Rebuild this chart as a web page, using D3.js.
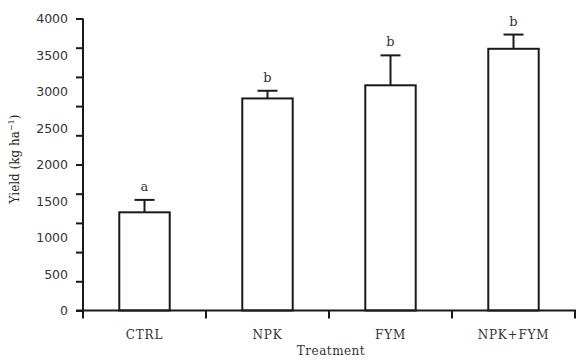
<!DOCTYPE html>
<html>
<head>
<meta charset="utf-8">
<script src="https://cdn.jsdelivr.net/npm/d3@7"></script>
<style>
  body { margin: 0; background: #fff; }
  svg { display: block; }
</style>
</head>
<body>
<div id="chart"></div>
<script>
var width = 576;
var height = 360;

// data
const treatments = ["CTRL", "NPK", "FYM", "NPK+FYM"];
const yieldMean = [1345, 2905, 3085, 3585];
const yieldErr = [170, 105, 410, 195];
const groupLetters = ["a", "b", "b", "b"];
const yLabelTicks = [0, 500, 1000, 1500, 2000, 2500, 3000, 3500, 4000];
const yMarkTicks = d3.range(0, 4001, 400);

const x = d3.scaleBand()
  .domain(treatments)
  .range([83, 575])
  .padding(0);

const y = d3.scaleLinear()
  .domain([0, 4000])
  .range([310.5, 18.5]);

const barW = x.bandwidth() * 0.41;
const ink = "#1a1a1a";

let svg = d3.select("#chart")
  .append("svg")
  .attr("width", width)
  .attr("height", height);

// bars
svg.selectAll("rect.bar")
  .data(treatments)
  .enter().append("rect")
  .attr("class", "bar")
  .attr("x", (d) => x(d) + x.bandwidth() / 2 - barW / 2)
  .attr("y", (d, i) => y(yieldMean[i]))
  .attr("width", barW)
  .attr("height", (d, i) => y(0) - y(yieldMean[i]))
  .attr("fill", "#fff")
  .attr("stroke", ink)
  .attr("stroke-width", 2);

// error bars (upper only)
let err = svg.append("g").attr("stroke", ink).attr("stroke-width", 2);
treatments.forEach((d, i) => {
  const cx = x(d) + x.bandwidth() / 2;
  err.append("line")
    .attr("x1", cx).attr("x2", cx)
    .attr("y1", y(yieldMean[i])).attr("y2", y(yieldMean[i] + yieldErr[i]));
  err.append("line")
    .attr("x1", cx - 10).attr("x2", cx + 10)
    .attr("y1", y(yieldMean[i] + yieldErr[i])).attr("y2", y(yieldMean[i] + yieldErr[i]));
});

// significance letters
svg.selectAll("text.sig")
  .data(treatments)
  .enter().append("text")
  .attr("class", "sig")
  .attr("x", (d) => x(d) + x.bandwidth() / 2)
  .attr("y", (d, i) => y(yieldMean[i] + yieldErr[i]) - 9)
  .attr("text-anchor", "middle")
  .attr("font-family", "DejaVu Serif, serif")
  .attr("font-size", 13)
  .attr("fill", "#333")
  .text((d, i) => groupLetters[i]);

// y axis: ticks and labels are not aligned in the original
let yTicks = svg.append("g")
  .attr("transform", "translate(" + x.range()[0] + ",0)")
  .call(d3.axisLeft(y).tickValues(yMarkTicks).tickFormat("").tickSize(7).tickSizeOuter(0));
yTicks.select(".domain").remove();
yTicks.selectAll("line").attr("stroke", ink).attr("stroke-width", 2);

let yLabels = svg.append("g")
  .attr("transform", "translate(" + x.range()[0] + ",0)")
  .call(d3.axisLeft(y).tickValues(yLabelTicks).tickFormat(d3.format("d")).tickSize(0).tickPadding(15));
yLabels.select(".domain").remove();
yLabels.selectAll("text")
  .attr("font-family", "DejaVu Sans, sans-serif")
  .attr("font-size", 12.5)
  .attr("fill", "#333");

// axis lines
svg.append("line")
  .attr("x1", x.range()[0]).attr("x2", x.range()[0])
  .attr("y1", y.range()[1]).attr("y2", y(0) + 8)
  .attr("stroke", ink).attr("stroke-width", 2);
svg.append("line")
  .attr("x1", x.range()[0] - 7).attr("x2", width)
  .attr("y1", y(0)).attr("y2", y(0))
  .attr("stroke", ink).attr("stroke-width", 2);

// x ticks at band edges
svg.selectAll("line.xtick")
  .data(treatments)
  .enter().append("line")
  .attr("class", "xtick")
  .attr("x1", (d) => x(d) + x.bandwidth())
  .attr("x2", (d) => x(d) + x.bandwidth())
  .attr("y1", y(0)).attr("y2", y(0) + 8)
  .attr("stroke", ink).attr("stroke-width", 2);

// category labels
svg.selectAll("text.cat")
  .data(treatments)
  .enter().append("text")
  .attr("class", "cat")
  .attr("x", (d) => x(d) + x.bandwidth() / 2)
  .attr("y", y(0) + 28)
  .attr("text-anchor", "middle")
  .attr("font-family", "DejaVu Serif, serif")
  .attr("font-size", 12)
  .attr("letter-spacing", 0.8)
  .attr("fill", "#333")
  .text((d) => d);

// axis titles
svg.append("text")
  .attr("x", 331)
  .attr("y", 355)
  .attr("text-anchor", "middle")
  .attr("font-family", "DejaVu Serif, serif")
  .attr("font-size", 12)
  .attr("letter-spacing", 0.5)
  .attr("fill", "#333")
  .text("Treatment");

let yt = svg.append("text")
  .attr("transform", "translate(19,159) rotate(-90)")
  .attr("text-anchor", "middle")
  .attr("font-family", "DejaVu Serif, serif")
  .attr("font-size", 12)
  .attr("fill", "#222");
yt.append("tspan").text("Yield (kg ha");
yt.append("tspan").attr("dy", -5).attr("font-size", 8).text("\u22121");
yt.append("tspan").attr("dy", 5).text(")");
</script>
</body>
</html>
